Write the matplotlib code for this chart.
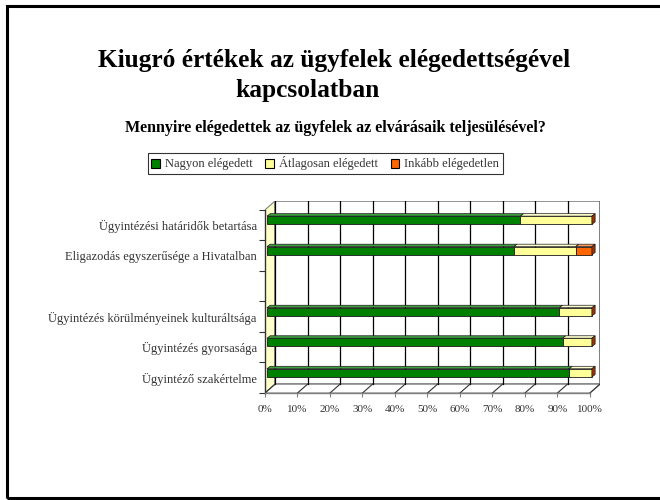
#!/usr/bin/env python3
"""
Kiugró értékek - 3D jellegű halmozott sávdiagram (matplotlib)
"""

import matplotlib
matplotlib.use('Agg')
import matplotlib.pyplot as plt
from matplotlib.patches import Rectangle, Polygon, Patch

plt.rcParams['font.family'] = ['Liberation Serif', 'DejaVu Serif']

# Adatok (alulról felfelé, az üres sor egy kihagyott kategória)
kategoriak = [
    'Ügyintéző szakértelme',
    'Ügyintézés gyorsasága',
    'Ügyintézés körülményeinek kulturáltsága',
    '',
    'Eligazodás egyszerűsége a Hivatalban',
    'Ügyintézési határidők betartása',
]
nagyon = [93, 91, 90, 0, 76, 78]
atlagosan = [7, 9, 10, 0, 19, 22]
inkabb = [0, 0, 0, 0, 5, 0]

sorozat_nevek = ['Nagyon elégedett', 'Átlagosan elégedett', 'Inkább elégedetlen']
x_tick_cimkek = ['0%', '10%', '20%', '30%', '40%', '50%', '60%', '70%', '80%', '90%', '100%']

# Színek: elülső lap, felső lap
szinek = ['#008000', '#FFFF99', '#FF6600']
felso_szinek = ['#3FA03F', '#FFFFCC', '#FF9955']
veg_szin = '#993300'
fal_szin = '#FFFFCC'

# 3D mélység (adategységben)
DX, DY = 3.1, 0.29          # padló / fal eltolása
OX, OY = 0.6, 0.16          # sávok helye a mélységben
H = 0.27                    # sáv magassága
BDX, BDY = 1.0, 0.08        # sáv mélysége

fig = plt.figure(figsize=(6.6, 5.0), dpi=100)

# keret a dia körül
fig.patches.append(Rectangle((7 / 660, 2 / 500), 1.0, 0.985, transform=fig.transFigure,
                             fill=False, edgecolor='black', linewidth=2.2))

# címek
fig.text(0.507, 0.878, 'Kiugró értékek az ügyfelek elégedettségével', ha='center', va='center',
         fontsize=18.3, fontweight='bold')
fig.text(0.466, 0.818, 'kapcsolatban', ha='center', va='center', fontsize=18.3, fontweight='bold')
fig.text(0.508, 0.743, 'Mennyire elégedettek az ügyfelek az elvárásaik teljesülésével?',
         ha='center', va='center', fontsize=11.5, fontweight='bold')

ax = fig.add_axes([265 / 660, 107 / 500, 335 / 660, 192 / 500])
n = len(kategoriak)
ax.set_xlim(0, 100 + DX)
ax.set_ylim(0, n + DY)
for s in ax.spines.values():
    s.set_visible(False)

# bal oldali fal
ax.add_patch(Polygon([(0, 0), (DX, DY), (DX, n + DY), (0, n)], closed=True,
                     facecolor=fal_szin, edgecolor='#808080', linewidth=0.8, zorder=1))
# hátsó fal
ax.add_patch(Rectangle((DX, DY), 100, n, facecolor='white', edgecolor='#808080',
                       linewidth=1.2, zorder=1))
# padló
ax.add_patch(Polygon([(0, 0), (100, 0), (100 + DX, DY), (DX, DY)], closed=True,
                     facecolor='white', edgecolor='#808080', linewidth=0.8, zorder=1))
# rácsvonalak a hátsó falon és a padlón
for v in range(0, 101, 10):
    ax.plot([v + DX, v + DX], [DY, n + DY], color='black', linewidth=0.9, zorder=2)
    ax.plot([v, v + DX], [0, DY], color='#333333', linewidth=0.8, zorder=2)
# függőleges tengely
ax.plot([0, 0], [0, n], color='#333333', linewidth=1.0, zorder=3, clip_on=False)
ax.plot([0, 100], [0, 0], color='#808080', linewidth=1.0, zorder=3, clip_on=False)

# sávok
for i in range(n):
    ertekek = [nagyon[i], atlagosan[i], inkabb[i]]
    if sum(ertekek) == 0:
        continue
    yc = i + 0.5 + OY
    bal = 0
    for k, v in enumerate(ertekek):
        if v <= 0:
            continue
        x0 = OX + bal
        ax.add_patch(Rectangle((x0, yc - H / 2), v, H, facecolor=szinek[k],
                               edgecolor='#1a1a1a', linewidth=0.6, zorder=4))
        ax.add_patch(Polygon([(x0, yc + H / 2), (x0 + BDX, yc + H / 2 + BDY),
                              (x0 + v + BDX, yc + H / 2 + BDY), (x0 + v, yc + H / 2)],
                             closed=True, facecolor=felso_szinek[k], edgecolor='#1a1a1a',
                             linewidth=0.5, zorder=4))
        bal += v
    xe = OX + bal
    ax.add_patch(Polygon([(xe, yc - H / 2), (xe + BDX, yc - H / 2 + BDY),
                          (xe + BDX, yc + H / 2 + BDY), (xe, yc + H / 2)],
                         closed=True, facecolor=veg_szin, edgecolor='#1a1a1a',
                         linewidth=0.5, zorder=5))

# tengelyfeliratok
ax.set_xticks(range(0, 101, 10))
ax.set_xticklabels(x_tick_cimkek, fontsize=8, color='#333333')
ax.tick_params(axis='x', length=3, color='#808080', pad=6)
ax.set_yticks(range(0, n + 1))
ax.set_yticklabels([''] * (n + 1))
ax.tick_params(axis='y', which='major', length=4, color='#333333')
ax.set_yticks([i + 0.5 for i in range(n)], minor=True)
ax.set_yticklabels(kategoriak, minor=True, fontsize=9, color='#333333')
ax.tick_params(axis='y', which='minor', length=0, pad=6)

# jelmagyarázat
kezelok = [Patch(facecolor=c, edgecolor='black', linewidth=0.8) for c in szinek]
leg = fig.legend(kezelok, sorozat_nevek, loc='center', bbox_to_anchor=(0.493, 0.673), ncol=3,
                 fontsize=9, frameon=True, fancybox=False, edgecolor='black',
                 handlelength=0.7, handleheight=0.7, handletextpad=0.4, columnspacing=1.0,
                 borderpad=0.3)
leg.get_frame().set_linewidth(0.8)
for t in leg.get_texts():
    t.set_color('#333333')

fig.savefig('out.png', dpi=100)
